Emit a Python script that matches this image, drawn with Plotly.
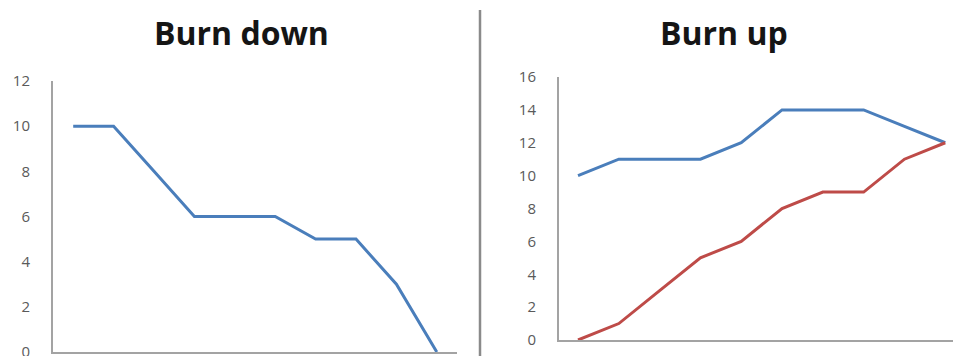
import plotly.graph_objects as go

# Sprint days and tracked story points
days = ["1", "2", "3", "4", "5", "6", "7", "8", "9", "10"]
remaining = [10, 10, 8, 6, 6, 6, 5, 5, 3, 0]
total_scope = [10, 11, 11, 11, 12, 14, 14, 14, 13, 12]
completed = [0, 1, 3, 5, 6, 8, 9, 9, 11, 12]

left_ticks = [0, 2, 4, 6, 8, 10, 12]
right_ticks = [0, 2, 4, 6, 8, 10, 12, 14, 16]

W, H = 953, 356
BLUE = "#4a7ebb"
RED = "#be4b48"
AXIS = "#a3a3a3"
LABEL = "#5a5a5a"
FONT = "Open Sans, DejaVu Sans, sans-serif"


def px_x(p):
    return p / W


def px_y(p):
    return (H - p) / H


fig = go.Figure()

fig.add_trace(go.Scatter(
    x=days, y=remaining, mode="lines",
    line=dict(color=BLUE, width=3), xaxis="x", yaxis="y",
    showlegend=False, hoverinfo="skip",
))
fig.add_trace(go.Scatter(
    x=days, y=total_scope, mode="lines",
    line=dict(color=BLUE, width=3), xaxis="x2", yaxis="y2",
    showlegend=False, hoverinfo="skip",
))
fig.add_trace(go.Scatter(
    x=days, y=completed, mode="lines",
    line=dict(color=RED, width=3), xaxis="x2", yaxis="y2",
    showlegend=False, hoverinfo="skip",
))

tick_font = dict(family=FONT, size=15, color=LABEL)

common_x = dict(
    type="category", showgrid=False, zeroline=False,
    showline=True, linecolor=AXIS, linewidth=2,
    ticks="", tickfont=tick_font, ticklabelstandoff=7,
    automargin=False, fixedrange=True,
)
common_y = dict(
    showgrid=False, zeroline=False,
    showline=True, linecolor=AXIS, linewidth=2,
    ticks="", tickfont=tick_font, ticklabelstandoff=18,
    ticklabeloverflow="allow",
    automargin=False, fixedrange=True,
)

fig.update_layout(
    width=W, height=H,
    margin=dict(l=0, r=0, t=0, b=0),
    paper_bgcolor="white", plot_bgcolor="white",
    xaxis=dict(common_x, domain=[px_x(53), px_x(457)],
               range=[-0.5, 9.5], anchor="y", showticklabels=False),
    yaxis=dict(common_y, domain=[px_y(352), px_y(81)],
               range=[0, 12], tickvals=left_ticks, anchor="x"),
    xaxis2=dict(common_x, domain=[px_x(559), 1.0],
                range=[-0.466, 9.19], anchor="y2",
                ticklabeloverflow="allow"),
    yaxis2=dict(common_y, domain=[px_y(340), px_y(77)],
                range=[0, 16], tickvals=right_ticks, anchor="x2"),
    annotations=[
        dict(text="<b>Burn down</b>", x=px_x(241), y=px_y(33),
             xref="paper", yref="paper", xanchor="center", yanchor="middle",
             showarrow=False, font=dict(family=FONT, size=32, color="#151515")),
        dict(text="<b>Burn up</b>", x=px_x(724), y=px_y(33),
             xref="paper", yref="paper", xanchor="center", yanchor="middle",
             showarrow=False, font=dict(family=FONT, size=32, color="#151515")),
    ],
    shapes=[
        dict(type="line", xref="paper", yref="paper",
             x0=px_x(480), x1=px_x(480), y0=-0.05, y1=px_y(10),
             line=dict(color="#8a8a8a", width=2.5)),
    ],
)

fig.write_html("out.html")
